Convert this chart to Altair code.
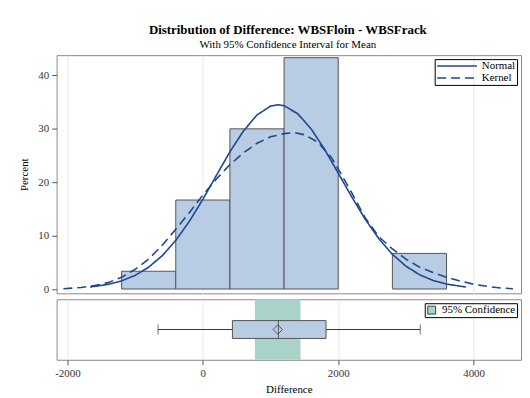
import altair as alt
import pandas as pd

# ---- data ----
bin_start = [-1200, -400, 400, 1200, 2000, 2800]
bin_end = [-400, 400, 1200, 2000, 2800, 3600]
bin_pct = [3.33, 16.67, 30.0, 43.33, 0.0, 6.67]

normal_x = [-1665, -1400, -1200, -1000, -800, -600, -400, -200, 0, 200, 400, 600, 800, 1000,
            1110, 1200, 1400, 1600, 1800, 2000, 2200, 2400, 2600, 2800, 3000, 3200, 3400, 3600, 3885]
normal_y = [0.38, 0.87, 1.53, 2.56, 4.09, 6.25, 9.11, 12.66, 16.79, 21.27, 25.7, 29.6, 32.6, 34.26,
            34.5, 34.34, 32.84, 29.98, 26.13, 21.71, 17.24, 13.04, 9.43, 6.5, 4.28, 2.69, 1.61, 0.92, 0.38]

kernel_x = [-2060, -1800, -1600, -1400, -1200, -1000, -800, -600, -400, -200, 0, 200, 400, 600, 800,
            1000, 1200, 1350, 1500, 1700, 1900, 2000, 2200, 2400, 2600, 2800, 3000, 3200, 3400, 3600,
            3800, 4000, 4200, 4400, 4580]
kernel_y = [0.05, 0.3, 0.65, 1.2, 2.2, 3.7, 5.6, 8.2, 11.2, 14.3, 17.6, 20.6, 23.3, 25.5, 27.3,
            28.5, 29.1, 29.3, 28.9, 27.5, 24.6, 22.5, 18.0, 13.3, 9.8, 7.5, 5.6, 4.1, 3.1, 2.2,
            1.5, 0.9, 0.5, 0.2, 0.05]

box_labels = ["whisker_low", "q1", "median", "q3", "whisker_high", "mean"]
box_values = [-662, 437, 1116, 1820, 3211, 1107]
ci_low, ci_high = 769, 1443

x_ticks = [-2000, 0, 2000, 4000]
y_ticks = [0, 10, 20, 30, 40]

# ---- tables ----
hist = pd.DataFrame({"start": bin_start, "end": bin_end, "pct": bin_pct})
curves = pd.concat([
    pd.DataFrame({"x": normal_x, "y": normal_y, "curve": "Normal"}),
    pd.DataFrame({"x": kernel_x, "y": kernel_y, "curve": "Kernel"}),
])
stats = dict(zip(box_labels, box_values))
box = pd.DataFrame([{**stats, "grp": "Difference"}])
ci = pd.DataFrame({"lo": [ci_low], "hi": [ci_high], "label": ["95% Confidence"]})

SERIF = "Liberation Serif"
BAR_FILL = "#b8cce4"
EDGE = "#555555"
CURVE = "#1f478f"
CI_FILL = "#a9d3c9"

xs = alt.Scale(domain=[-2160, 4700], nice=False, zero=False, padding=0)
ys = alt.Scale(domain=[-0.8, 43.8], nice=False, zero=False, padding=0)

top_x_axis = alt.Axis(values=x_ticks, labels=False, ticks=False, title=None, grid=True, domain=False)

bars = alt.Chart(hist).transform_filter("datum.pct > 0").mark_rect(
    fill=BAR_FILL, stroke=EDGE, strokeWidth=1
).encode(
    x=alt.X("start:Q", scale=xs, axis=top_x_axis),
    x2="end:Q",
    y=alt.Y("pct:Q", scale=ys, axis=alt.Axis(values=y_ticks, title="Percent", grid=False, domain=False,
                                               tickSize=5, labelPadding=3, titlePadding=8)),
    y2=alt.datum(0),
)

lines = alt.Chart(curves).mark_line(color=CURVE, strokeWidth=1.6).encode(
    x=alt.X("x:Q", scale=xs),
    y=alt.Y("y:Q", scale=ys),
    strokeDash=alt.StrokeDash(
        "curve:N",
        scale=alt.Scale(domain=["Normal", "Kernel"], range=[[1, 0], [9, 5]]),
        legend=alt.Legend(title=None, orient="top-right", offset=4, strokeColor="black",
                          padding=1.5, symbolType="stroke", symbolSize=1600, symbolStrokeWidth=1.6,
                          symbolStrokeColor=CURVE, labelFont=SERIF, labelFontSize=11,
                          labelColor="black", rowPadding=0, clipHeight=11, labelOffset=4),
    ),
)

upper = alt.layer(bars, lines).properties(width=468, height=240)

bottom_x_axis = alt.Axis(values=x_ticks, title="Difference", grid=True, domain=False, tickSize=5,
                         labelExpr="'' + datum.value", labelPadding=3, titlePadding=5)

ci_band = alt.Chart(ci).mark_rect().encode(
    x=alt.X("lo:Q", scale=xs, axis=bottom_x_axis),
    x2="hi:Q",
    fill=alt.Fill("label:N", scale=alt.Scale(domain=["95% Confidence"], range=[CI_FILL]),
                  legend=alt.Legend(title=None, orient="top-right", offset=4, strokeColor="black",
                                    padding=1.5, symbolType="square", symbolStrokeColor="#444",
                                    symbolStrokeWidth=1, symbolSize=64, labelFont=SERIF,
                                    labelFontSize=11, labelColor="black", clipHeight=11,
                                    labelOffset=5)),
)

ycat = alt.Y("grp:N", axis=None)

whisker = alt.Chart(box).mark_rule(color="#333333", strokeWidth=1).encode(
    x=alt.X("whisker_low:Q", scale=xs), x2="whisker_high:Q", y=ycat)
caps_lo = alt.Chart(box).mark_tick(color="#333333", size=10, thickness=1).encode(
    x=alt.X("whisker_low:Q", scale=xs), y=ycat)
caps_hi = alt.Chart(box).mark_tick(color="#333333", size=10, thickness=1).encode(
    x=alt.X("whisker_high:Q", scale=xs), y=ycat)
boxbar = alt.Chart(box).mark_bar(fill=BAR_FILL, stroke=EDGE, strokeWidth=1, size=18).encode(
    x=alt.X("q1:Q", scale=xs), x2="q3:Q", y=ycat)
med = alt.Chart(box).mark_tick(color="#333333", size=18, thickness=1).encode(
    x=alt.X("median:Q", scale=xs), y=ycat)
mean_pt = alt.Chart(box).mark_point(shape="diamond", filled=False, color="#222222", size=90,
                                    strokeWidth=1).encode(
    x=alt.X("mean:Q", scale=xs), y=ycat)

lower = alt.layer(ci_band, whisker, caps_lo, caps_hi, boxbar, med, mean_pt).properties(
    width=468, height=61)

chart = alt.vconcat(upper, lower, spacing=3).resolve_scale(x="shared").resolve_legend(
    strokeDash="independent", fill="independent"
).properties(
    title=alt.TitleParams(
        text="Distribution of Difference: WBSFloin - WBSFrack",
        subtitle="With 95% Confidence Interval for Mean",
        font=SERIF, fontSize=13, fontWeight="bold", color="black",
        subtitleFont=SERIF, subtitleFontSize=11, subtitleColor="black",
        anchor="middle", offset=5, subtitlePadding=2, dx=18,
    ),
    padding={"left": 10, "top": 14, "right": 0, "bottom": 2},
    background="white",
).configure_view(
    stroke="#888888", strokeWidth=1
).configure_axis(
    labelFont=SERIF, labelFontSize=11, labelColor="#333333", titleFont=SERIF, titleFontSize=11,
    titleColor="black", titleFontWeight="normal", tickColor="#555555", gridColor="#e8e8e8"
)

chart.save("out.html", embed_options={"renderer": "svg", "actions": False})
